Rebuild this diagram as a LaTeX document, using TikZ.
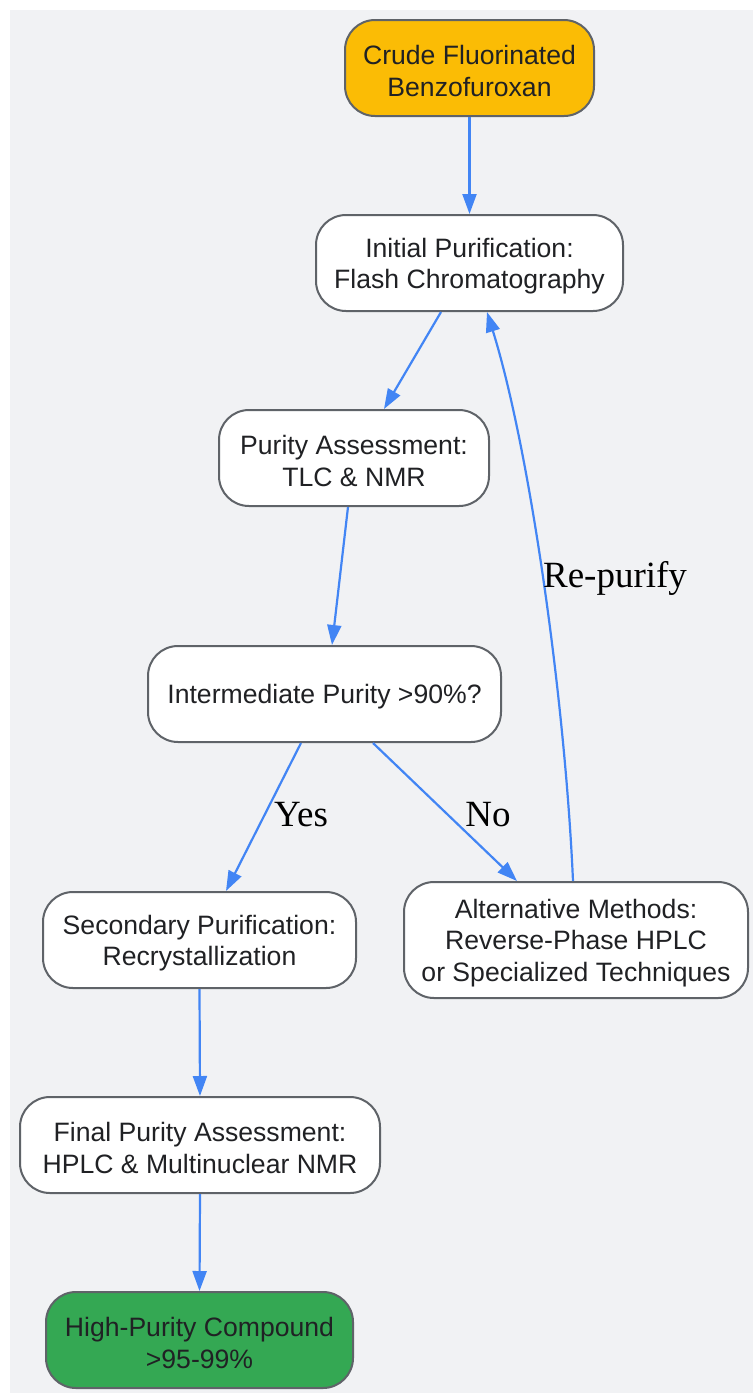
\documentclass[tikz,border=0pt]{standalone}
\usepackage{fontspec}
\setmainfont{Liberation Sans}
\newfontfamily\labelfont{Liberation Serif}
\usetikzlibrary{arrows.meta}
\definecolor{bgc}{HTML}{F1F2F4}
\definecolor{edgec}{HTML}{4285F4}
\definecolor{borderc}{HTML}{5F6368}
\definecolor{txtc}{HTML}{202124}
\definecolor{startc}{HTML}{FBBC05}
\definecolor{endc}{HTML}{34A853}
\tikzset{
  box/.style={draw=borderc, line width=1pt, rounded corners=15pt, fill=white,
    inner sep=0pt, align=center, text=txtc,
    font=\fontsize{13.3pt}{15.8pt}\selectfont},
  lift/.style={execute at begin node={\rule{0pt}{#1}}},
  flow/.style={draw=edgec, line width=1.1pt, -{Triangle[length=10pt,width=7pt]}},
  lbl/.style={font=\labelfont\fontsize{18.5pt}{22pt}\selectfont, text=black, inner sep=0pt}
}
\begin{document}
\begin{tikzpicture}[x=0.5pt,y=-0.5pt]
\useasboundingbox (0,0) rectangle (753,1393);
\fill[white] (0,0) rectangle (753,1393);
\fill[bgc] (10,10) rectangle (753,1393);

\node[box, lift=28.5pt, fill=startc, minimum width=124.5pt, minimum height=48pt] (crude) at (469.5,68)
  {Crude Fluorinated\\Benzofuroxan};
\node[box, lift=28.5pt, minimum width=153.5pt, minimum height=48pt] (init) at (469.5,263)
  {Initial Purification:\\Flash Chromatography};
\node[box, lift=28.5pt, minimum width=135pt, minimum height=48pt] (assess) at (354,458)
  {Purity Assessment:\\TLC \& NMR};
\node[box, lift=12.7pt, minimum width=176.5pt, minimum height=48pt] (inter) at (324.5,694)
  {Intermediate Purity >90\%?};
\node[box, lift=28.5pt, minimum width=156.5pt, minimum height=48pt] (second) at (199.5,940)
  {Secondary Purification:\\Recrystallization};
\node[box, lift=44.3pt, minimum width=172pt, minimum height=58pt] (alt) at (576,940)
  {Alternative Methods:\\Reverse-Phase HPLC\\or Specialized Techniques};
\node[box, lift=28.5pt, minimum width=180pt, minimum height=48pt] (final) at (200,1145)
  {Final Purity Assessment:\\HPLC \& Multinuclear NMR};
\node[box, lift=28.5pt, fill=endc, minimum width=153.5pt, minimum height=48pt] (high) at (199.5,1340)
  {High-Purity Compound\\>95-99\%};

\draw[flow] ([xshift=-14.25pt]init.south) -- ([xshift=15pt]assess.north);
\draw[flow] (crude.south) -- (init.north);
\draw[flow] ([xshift=-3pt]assess.south) -- ([xshift=3.75pt]inter.north);
\draw[flow] ([xshift=-11.75pt]inter.south) -- ([xshift=13.25pt]second.north);
\draw[flow] ([xshift=24.25pt]inter.south) -- ([xshift=-29.5pt]alt.north);
\draw[flow] ([xshift=-1.5pt]alt.north) .. controls (565,700) and (530,450) .. ([xshift=8.75pt]init.south);
\draw[flow] (second.south) -- (final.north);
\draw[flow] (final.south) -- (high.north);

\node[lbl] (yes) at (301,815) {Yes};
\node[lbl] (no) at (488,815) {No};
\node[lbl] (rep) at (615,578) {Re-purify};
\end{tikzpicture}
\end{document}
